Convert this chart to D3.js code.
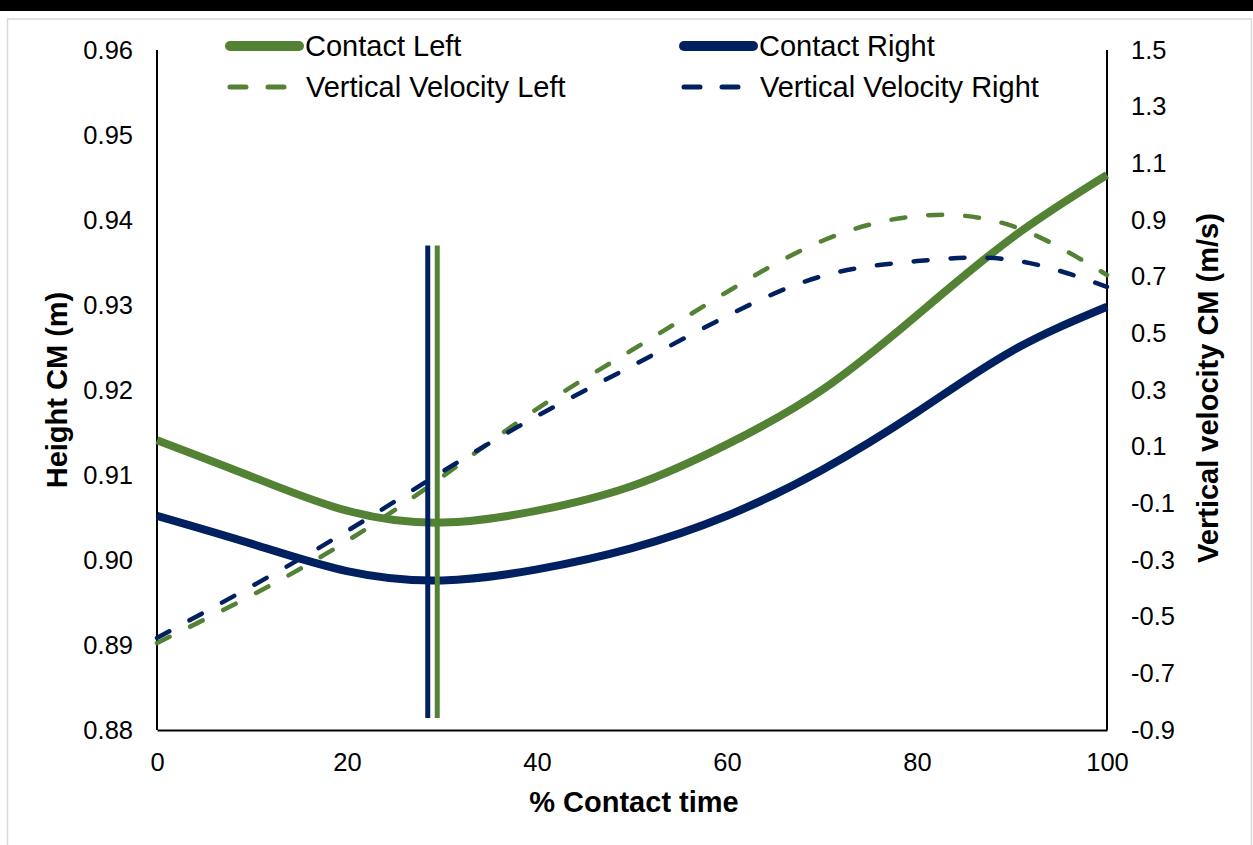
<!DOCTYPE html>
<html>
<head>
<meta charset="utf-8">
<script src="https://cdn.jsdelivr.net/npm/d3@7/dist/d3.min.js"></script>
<style>
  html, body { margin: 0; padding: 0; background: #fff; }
  svg { display: block; }
  text { font-family: "Liberation Sans", Arial, sans-serif; fill: #000; }
</style>
</head>
<body>
<svg id="chart" width="1253" height="845"></svg>
<script>
// ---------- data ----------
const pct = [0, 10, 20, 30, 40, 50, 60, 70, 80, 90, 100];
const heightLeft  = [0.9141, 0.9098, 0.9058, 0.9044, 0.9058, 0.9087, 0.9136, 0.9200, 0.9288, 0.9379, 0.9453];
const heightRight = [0.9052, 0.9019, 0.8987, 0.8976, 0.8989, 0.9014, 0.9052, 0.9106, 0.9174, 0.9246, 0.9298];
const velLeft  = [-0.593, -0.424, -0.233, -0.007, 0.233, 0.441, 0.646, 0.826, 0.914, 0.879, 0.706];
const velRight = [-0.575, -0.392, -0.198, 0.011, 0.208, 0.385, 0.561, 0.702, 0.755, 0.759, 0.664];
// vertical markers (minimum height instants)
const markerLeftX = 29.5;
const markerRightX = 28.5;
const markerRange = [0.8814, 0.9370];

const xTicks = [0, 20, 40, 60, 80, 100];
const xTickLabels = ["0", "20", "40", "60", "80", "100"];
const yLeftTicks = [0.88, 0.89, 0.90, 0.91, 0.92, 0.93, 0.94, 0.95, 0.96];
const yLeftTickLabels = ["0.88", "0.89", "0.90", "0.91", "0.92", "0.93", "0.94", "0.95", "0.96"];
const yRightTicks = [-0.9, -0.7, -0.5, -0.3, -0.1, 0.1, 0.3, 0.5, 0.7, 0.9, 1.1, 1.3, 1.5];
const yRightTickLabels = ["-0.9", "-0.7", "-0.5", "-0.3", "-0.1", "0.1", "0.3", "0.5", "0.7", "0.9", "1.1", "1.3", "1.5"];

const seriesNames = ["Contact Left", "Contact Right", "Vertical Velocity Left", "Vertical Velocity Right"];
const GREEN = "#548235", NAVY = "#002060";

// ---------- layout ----------
const svg = d3.select("#chart");
const W = 1253, H = 845;
const plot = { left: 157, right: 1107, top: 50, bottom: 730 };

// top black bar and light frame
svg.append("rect").attr("x", 0).attr("y", 0).attr("width", W).attr("height", 11).attr("fill", "#000");
svg.append("rect").attr("x", 7.5).attr("y", 19).attr("width", 1244).attr("height", 840)
  .attr("fill", "none").attr("stroke", "#d9d9d9").attr("stroke-width", 1.5);

const x = d3.scaleLinear().domain([0, 100]).range([plot.left, plot.right]);
const yL = d3.scaleLinear().domain([0.88, 0.96]).range([plot.bottom, plot.top]);
const yR = d3.scaleLinear().domain([-0.9, 1.5]).range([plot.bottom, plot.top]);

// axes
const axisFont = 25.5;
const gx = svg.append("g").attr("transform", `translate(0,${plot.bottom})`)
  .call(d3.axisBottom(x).tickValues(xTicks).tickFormat((d, i) => xTickLabels[i]).tickSize(0).tickPadding(23));
const gl = svg.append("g").attr("transform", `translate(${plot.left},0)`)
  .call(d3.axisLeft(yL).tickValues(yLeftTicks).tickFormat((d, i) => yLeftTickLabels[i]).tickSize(0).tickPadding(24));
const gr = svg.append("g").attr("transform", `translate(${plot.right},0)`)
  .call(d3.axisRight(yR).tickValues(yRightTicks).tickFormat((d, i) => yRightTickLabels[i]).tickSize(0).tickPadding(24));
[gx, gl, gr].forEach(g => {
  g.selectAll(".domain").attr("stroke", "#000").attr("stroke-width", 2);
  g.selectAll("text").attr("font-size", axisFont).attr("font-family", "Liberation Sans, Arial, sans-serif");
});
gl.select(".domain").attr("d", `M0,${plot.top}V${plot.bottom}`);
gr.select(".domain").attr("d", `M0,${plot.top}V${plot.bottom}`);

// axis titles
const titleFont = 29;
svg.append("text").attr("x", (plot.left + plot.right) / 2 + 2).attr("y", 812)
  .attr("text-anchor", "middle").attr("font-size", titleFont).attr("font-weight", "bold").text("% Contact time");
svg.append("text").attr("transform", `translate(67,${(plot.top + plot.bottom) / 2}) rotate(-90)`)
  .attr("text-anchor", "middle").attr("font-size", titleFont).attr("font-weight", "bold").text("Height CM (m)");
svg.append("text").attr("transform", `translate(1218,${(plot.top + plot.bottom) / 2 - 2}) rotate(-90)`)
  .attr("text-anchor", "middle").attr("font-size", titleFont).attr("font-weight", "bold").text("Vertical velocity CM (m/s)");

// lines
const lineL = d3.line().x((d, i) => x(pct[i])).y(d => yL(d)).curve(d3.curveNatural);
const lineR = d3.line().x((d, i) => x(pct[i])).y(d => yR(d)).curve(d3.curveNatural);

svg.append("path").attr("d", lineL(heightLeft)).attr("fill", "none").attr("stroke", GREEN).attr("stroke-width", 8);
svg.append("path").attr("d", lineL(heightRight)).attr("fill", "none").attr("stroke", NAVY).attr("stroke-width", 8);
svg.append("path").attr("d", lineR(velLeft)).attr("fill", "none").attr("stroke", GREEN).attr("stroke-width", 4.5)
  .attr("stroke-dasharray", "14,23").attr("stroke-linecap", "round");
svg.append("path").attr("d", lineR(velRight)).attr("fill", "none").attr("stroke", NAVY).attr("stroke-width", 4.5)
  .attr("stroke-dasharray", "14,23").attr("stroke-linecap", "round");

// vertical markers
[[markerRightX, NAVY], [markerLeftX, GREEN]].forEach(([mx, c]) => {
  svg.append("line").attr("x1", x(mx)).attr("x2", x(mx))
    .attr("y1", yL(markerRange[1])).attr("y2", yL(markerRange[0]))
    .attr("stroke", c).attr("stroke-width", 5);
});

// legend
const legend = [
  { name: seriesNames[0], c: GREEN, dash: false, lx: 230, tx: 305, y: 46 },
  { name: seriesNames[1], c: NAVY, dash: false, lx: 684, tx: 759, y: 46 },
  { name: seriesNames[2], c: GREEN, dash: true, lx: 230, tx: 306, y: 87 },
  { name: seriesNames[3], c: NAVY, dash: true, lx: 684, tx: 760, y: 87 }
];
legend.forEach(l => {
  if (l.dash) {
    svg.append("line").attr("x1", l.lx).attr("x2", l.lx + 58).attr("y1", l.y).attr("y2", l.y)
      .attr("stroke", l.c).attr("stroke-width", 5).attr("stroke-linecap", "round").attr("stroke-dasharray", "16,22");
  } else {
    svg.append("line").attr("x1", l.lx).attr("x2", l.lx + 69).attr("y1", l.y).attr("y2", l.y)
      .attr("stroke", l.c).attr("stroke-width", 10).attr("stroke-linecap", "round");
  }
  svg.append("text").attr("x", l.tx).attr("y", l.y).attr("dy", "0.35em")
    .attr("font-size", 29).text(l.name);
});
</script>
</body>
</html>
